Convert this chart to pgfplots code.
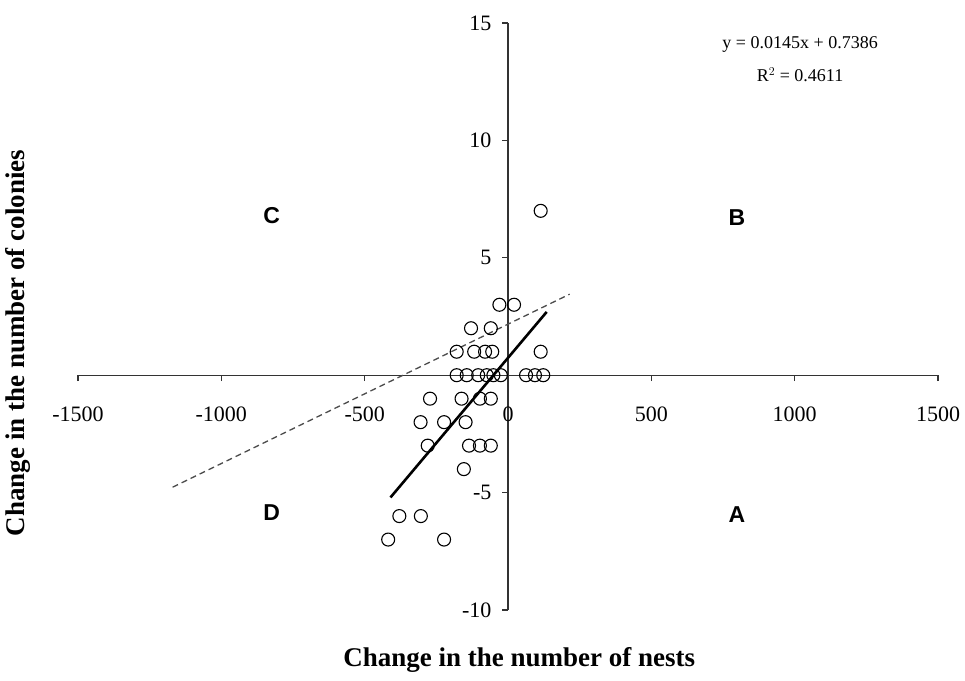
\documentclass[border=0pt]{standalone}
\usepackage{fontspec}
\setmainfont{Liberation Serif}
\newfontfamily\arialf{Liberation Sans}
\usepackage{pgfplots}
\pgfplotsset{compat=1.18}
\begin{document}
\begin{tikzpicture}
\useasboundingbox (-78pt,-70pt) rectangle (887pt,610pt);
\begin{axis}[
  at={(0pt,0pt)}, anchor=south west,
  scale only axis, width=860pt, height=587pt,
  xmin=-1500, xmax=1500, ymin=-10, ymax=15,
  axis lines=middle,
  axis line style={-, line width=1.2pt, black!80},
  clip=false,
  xtick={-1500,-1000,-500,0,500,1000,1500},
  ytick={-10,-5,5,10,15},
  hide obscured x ticks=false,
  hide obscured y ticks=false,
  tick align=outside,
  major tick length=6pt,
  tick style={line width=1.2pt, black!80},
  /pgf/number format/assume math mode=true,
  /pgf/number format/set thousands separator={},
  xticklabel style={font=\fontsize{22}{24}\selectfont, yshift=-22pt},
  yticklabel style={font=\fontsize{22}{24}\selectfont, xshift=-7pt},
  xlabel={\textbf{Change in the number of nests}},
  ylabel={\textbf{Change in the number of colonies}},
  xlabel style={font=\fontsize{27}{30}\selectfont, at={(axis description cs:0.513,-0.085)}, anchor=center},
  ylabel style={font=\fontsize{27}{30}\selectfont, at={(axis description cs:-0.07,0.455)}, anchor=center, rotate=90},
]
\addplot[only marks, mark=o, mark size=6.5pt, mark options={line width=1.1pt, black}] coordinates {
(-30,3) (21,3)
(-129,2) (-60,2)
(-179,1) (-118,1) (-80,1) (-55,1) (114,1)
(-179,0) (-144,0) (-104,0) (-74,0) (-51,0) (-25,0) (63,0) (94,0) (123,0)
(-272,-1) (-162,-1) (-98,-1) (-60,-1)
(-305,-2) (-223,-2) (-148,-2)
(-280,-3) (-136,-3) (-98,-3) (-60,-3)
(-154,-4)
(-379,-6) (-304,-6)
(-418,-7) (-223,-7)
(114,7)
};
\addplot[black, line width=2.6pt] coordinates {(-410,-5.2064) (135,2.6961)};
\addplot[black!70, dashed, line width=1.3pt, dash pattern=on 6pt off 4pt] coordinates {(-1170,-4.77) (215,3.45)};
\node[font=\fontsize{18}{20}\selectfont] at (axis cs:1019,14.1) {y = 0.0145x + 0.7386};
\node[font=\fontsize{18}{20}\selectfont] at (axis cs:1019,12.8) {R$^2$ = 0.4611};
\node[font=\arialf\bfseries\fontsize{23}{25}\selectfont] at (axis cs:-824,6.8) {C};
\node[font=\arialf\bfseries\fontsize{23}{25}\selectfont] at (axis cs:799,6.7) {B};
\node[font=\arialf\bfseries\fontsize{23}{25}\selectfont] at (axis cs:-824,-5.85) {D};
\node[font=\arialf\bfseries\fontsize{23}{25}\selectfont] at (axis cs:799,-5.95) {A};
\end{axis}
\end{tikzpicture}
\end{document}
